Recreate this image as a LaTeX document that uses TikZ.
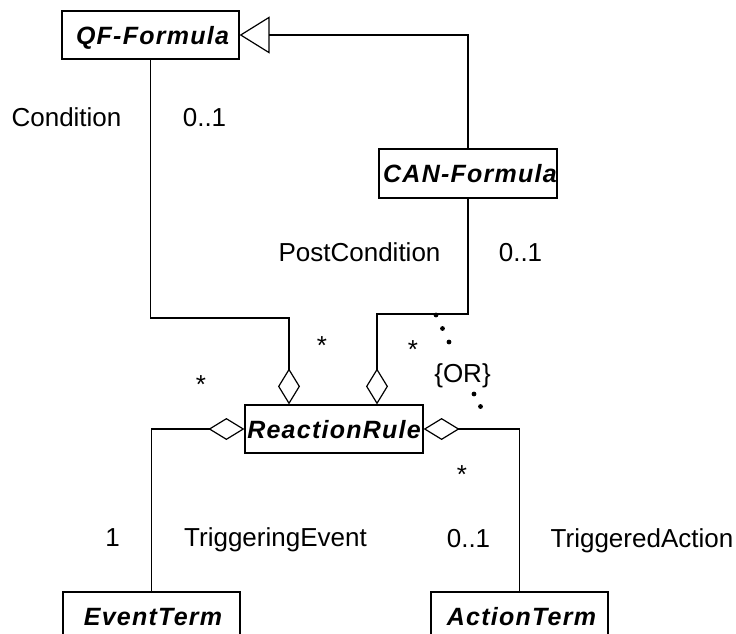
\documentclass[tikz,border=0pt]{standalone}
\usepackage{fontspec}
\setmainfont{Liberation Sans}
\newfontfamily\clsfamily[LetterSpace=5]{Liberation Sans}
\usetikzlibrary{arrows.meta,calc}
\tikzset{
  cls/.style={draw, line width=1.2pt, inner sep=0pt, fill=white,
    minimum width=177pt, minimum height=48pt,
    font=\clsfamily\fontsize{25}{29}\selectfont\bfseries\itshape,
    text height=18pt, text depth=0pt},
  lbl/.style={inner sep=0pt, anchor=base, font=\fontsize{26}{30}\selectfont},
  agg/.style={line width=1.2pt, -{Diamond[open,length=36pt,width=22pt]}},
  gen/.style={line width=1.2pt, -{Triangle[open,length=30pt,width=37pt]}},
  ordots/.style={line width=4.8pt, line cap=round, dash pattern=on 0pt off #1}
}
\begin{document}
\begin{tikzpicture}[x=1pt,y=-1pt]
\clip (0,0) rectangle (736,633);
\fill[white] (0,0) rectangle (736,633);
% classes
\node[cls] (qf) at (150.5,35) {\makebox[0pt]{\hspace{4pt}QF-Formula}};
\node[cls, minimum width=178pt, minimum height=49pt] (can) at (468,173.5) {\makebox[0pt]{\hspace{4pt}CAN-Formula}};
\node[cls, minimum width=178pt] (rr) at (334,429) {\makebox[0pt]{ReactionRule}};
\node[cls] (ev) at (151.5,616) {\makebox[0pt]{\hspace{3pt}EventTerm}};
\node[cls] (act) at (519.5,616) {\makebox[0pt]{\hspace{4pt}ActionTerm}};
% generalization
\draw[gen] (can.north) |- (qf.east);
% aggregations
\draw[agg] (qf.south) -- (qf.south |- 0,318) -| ($(rr.north)+(-45,0)$);
\draw[agg] (can.south) -- (can.south |- 0,314) -| ($(rr.north)+(43,0)$);
\draw[agg] (ev.north) |- (rr.west);
\draw[agg] (act.north) |- (rr.east);
% labels
\node[lbl] (lcond) at (66.5,126) {Condition};
\node[lbl] (lcondm) at (204.5,126) {0..1};
\node[lbl] (lpost) at (359.5,261) {PostCondition};
\node[lbl] (lpostm) at (520.5,261) {0..1};
\node[lbl] (levm) at (112.5,546) {1};
\node[lbl] (lev) at (275.5,546) {TriggeringEvent};
\node[lbl] (lactm) at (468.5,547) {0..1};
\node[lbl] (lact) at (642,547) {TriggeredAction};
% stars
\node[lbl] (s1) at (322,354) {*};
\node[lbl] (s2) at (413,358) {*};
\node[lbl] (s3) at (201,393) {*};
\node[lbl] (s4) at (462,483) {*};
% OR constraint
\node[lbl] (or) at (462.5,382) {\{OR\}};
\coordinate (d1) at (436,315);
\coordinate (d2) at (449,342);
\coordinate (d3) at (474,394);
\coordinate (d4) at (487,419);
\draw[ordots=14.98pt] (d1) -- (d2);
\draw[ordots=14.1pt] (d3) -- (d4);
\end{tikzpicture}
\end{document}
